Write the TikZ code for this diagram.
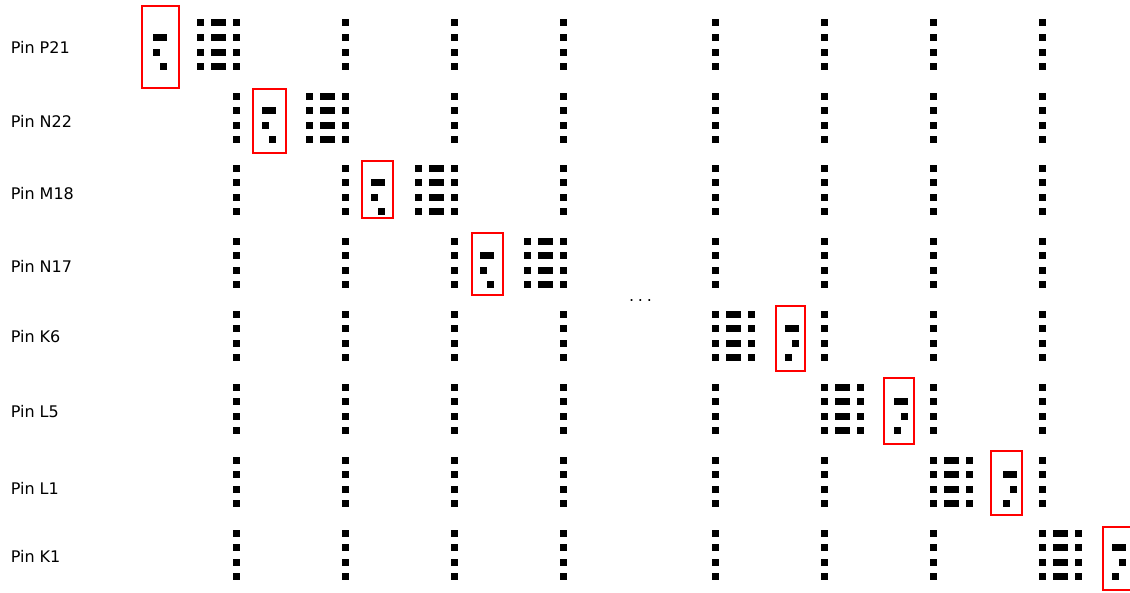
\documentclass[tikz,border=0pt]{standalone}
\usepackage{fontspec}
\setmainfont{DejaVu Sans}
\usepackage{tikz}
\usetikzlibrary{positioning}
\usepackage{xcolor}
\definecolor{boxred}{HTML}{FF0000}
\newcommand{\pindot}[2]{\fill ({#1-3.5},{#2-3.5}) rectangle ++(7,7);}
\newcommand{\pinbar}[3]{\fill ({#1-#3/2},{#2-3.5}) rectangle ++(#3,7);}

\begin{document}
\begin{tikzpicture}[
    x=0.75pt, y=-0.75pt,
    every node/.style={font=\fontsize{12}{14}\selectfont},
    lbl/.style={anchor=base west, inner sep=0pt},
    pinbox/.style={draw=boxred, line width=1.8pt}
]
    \useasboundingbox (0,0) rectangle (1130,592);
    \clip (0,0) rectangle (1130,592);

    \foreach \r/\name/\base in {1/P21/54, 2/N22/127, 3/M18/199, 4/N17/272,
                                5/K6/342, 6/L5/417, 7/L1/494, 8/K1/562}
        \node[lbl] (pin\r) at (10.5,\base) {Pin \name};

    \node[anchor=base] (more) at (640.5,301.5) {.\kern2.8pt.\kern2.8pt.};

    \foreach \ty in {23,96,168,241,314,387,460,533} {
        \foreach \cx in {236,345,454,563,715,824,933,1042} {
            \foreach \k in {0,...,3} {
                \pindot{\cx}{\ty+14.6*\k}
            }
        }
    }

    \foreach \ty/\cx/\s/\bl/\bt/\br/\bb in {
            23/236/-1/142/6/179/88,      96/345/-1/253/89/286/153,
            168/454/-1/362/161/393/218,  241/563/-1/472/233/503/295,
            314/715/1/776/306/805/371,   387/824/1/884/378/914/444,
            460/933/1/991/451/1022/515,  533/1042/1/1103/527/1140/590} {
        \foreach \k in {0,...,3} {
            \pindot{\cx+36*(\s)}{\ty+14.6*\k}
            \pinbar{\cx+18*(\s)}{\ty+14.6*\k}{15}
        }
        \pinbar{\cx+76.5*(\s)}{\ty+14.6}{14}
        \pindot{\cx+76.5*(\s)+3.5*(\s)}{\ty+29.2}
        \pindot{\cx+76.5*(\s)-3.5*(\s)}{\ty+43.8}
        \draw[pinbox] (\bl,\bt) rectangle (\br,\bb);
    }
\end{tikzpicture}
\end{document}
